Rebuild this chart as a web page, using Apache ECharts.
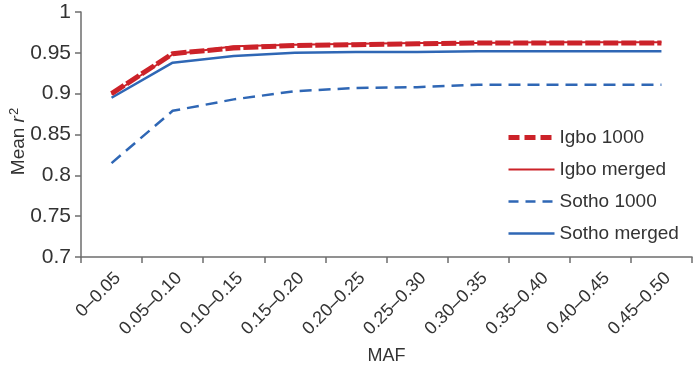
<!DOCTYPE html>
<html>
<head>
<meta charset="utf-8">
<script src="https://cdn.jsdelivr.net/npm/echarts@6/dist/echarts.min.js"></script>
<style>
  html, body { margin: 0; padding: 0; background: #fff; }
  #main { width: 694px; height: 367px; }
</style>
</head>
<body>
<div id="main"></div>
<script>
const categories = ['0–0.05', '0.05–0.10', '0.10–0.15', '0.15–0.20', '0.20–0.25',
  '0.25–0.30', '0.30–0.35', '0.35–0.40', '0.40–0.45', '0.45–0.50'];
const igbo1000 = [0.900, 0.949, 0.956, 0.959, 0.960, 0.961, 0.962, 0.962, 0.962, 0.962];
const igboMerged = [0.899, 0.948, 0.958, 0.960, 0.961, 0.962, 0.962, 0.963, 0.963, 0.963];
const sotho1000 = [0.815, 0.879, 0.893, 0.903, 0.907, 0.908, 0.911, 0.911, 0.911, 0.911];
const sothoMerged = [0.895, 0.938, 0.946, 0.950, 0.951, 0.951, 0.952, 0.952, 0.952, 0.952];
const yTicks = { min: 0.7, max: 1, interval: 0.05 };

const red = '#cc2229';
const blue = '#2f67b5';
const axisColor = '#6d6d6d';
const textColor = '#333333';
const font = 'Arial, "Liberation Sans", sans-serif';

const chart = echarts.init(document.getElementById('main'));
chart.setOption({
  backgroundColor: '#ffffff',
  animation: false,
  textStyle: { fontFamily: font },
  grid: { left: 81, right: 2, top: 12, bottom: 110, containLabel: false, outerBoundsMode: 'none' },
  legend: {
    orient: 'vertical',
    left: 501,
    top: 123,
    itemWidth: 46,
    itemHeight: 14,
    itemGap: 13,
    itemStyle: { opacity: 0, borderWidth: 0 },
    textStyle: { fontSize: 19, color: textColor, fontFamily: font },
    data: [
      { name: 'Igbo 1000', lineStyle: { width: 5, type: [11, 5] } },
      { name: 'Igbo merged', lineStyle: { width: 2.2 } },
      { name: 'Sotho 1000', lineStyle: { width: 2.5, type: [10, 7] } },
      { name: 'Sotho merged', lineStyle: { width: 2.5 } }
    ]
  },
  xAxis: {
    type: 'category',
    data: categories,
    boundaryGap: true,
    name: 'MAF',
    nameLocation: 'middle',
    nameGap: 90,
    nameMoveOverlap: false,
    nameTextStyle: { fontSize: 18, color: textColor },
    axisLine: { lineStyle: { color: axisColor, width: 1.5 } },
    axisTick: { show: true, length: 6, lineStyle: { color: axisColor, width: 1.5 } },
    axisLabel: { rotate: 45, fontSize: 18, color: textColor, margin: 12, verticalAlign: 'top' }
  },
  yAxis: {
    type: 'value',
    min: yTicks.min,
    max: yTicks.max,
    interval: yTicks.interval,
    name: '{a|Mean }{i|r}{s|2}',
    nameLocation: 'middle',
    nameGap: 52,
    nameMoveOverlap: false,
    nameTextStyle: {
      padding: [0, 14, 0, 0],
      rich: {
        a: { fontSize: 19, color: textColor, fontFamily: font },
        i: { fontSize: 19, color: textColor, fontStyle: 'italic', fontFamily: font },
        s: { fontSize: 13, color: textColor, verticalAlign: 'top', padding: [0, 0, 8, 1], fontFamily: font }
      }
    },
    splitLine: { show: false },
    axisLine: { show: true, lineStyle: { color: axisColor, width: 1.5 } },
    axisTick: { show: true, length: 6, lineStyle: { color: axisColor, width: 1.5 } },
    axisLabel: {
      fontSize: 21, color: textColor, margin: 10,
      formatter: v => String(Math.round(v * 100) / 100)
    }
  },
  series: [
    {
      name: 'Igbo merged', type: 'line', data: igboMerged, symbol: 'none', z: 2,
      color: red, lineStyle: { color: red, width: 2 }
    },
    {
      name: 'Igbo 1000', type: 'line', data: igbo1000, symbol: 'none', z: 3,
      color: red, lineStyle: { color: red, width: 5, type: [15, 3] }
    },
    {
      name: 'Sotho 1000', type: 'line', data: sotho1000, symbol: 'none', z: 2,
      color: blue, lineStyle: { color: blue, width: 2.5, type: [12, 7] }
    },
    {
      name: 'Sotho merged', type: 'line', data: sothoMerged, symbol: 'none', z: 2,
      color: blue, lineStyle: { color: blue, width: 2.5 }
    }
  ]
});
</script>
</body>
</html>
